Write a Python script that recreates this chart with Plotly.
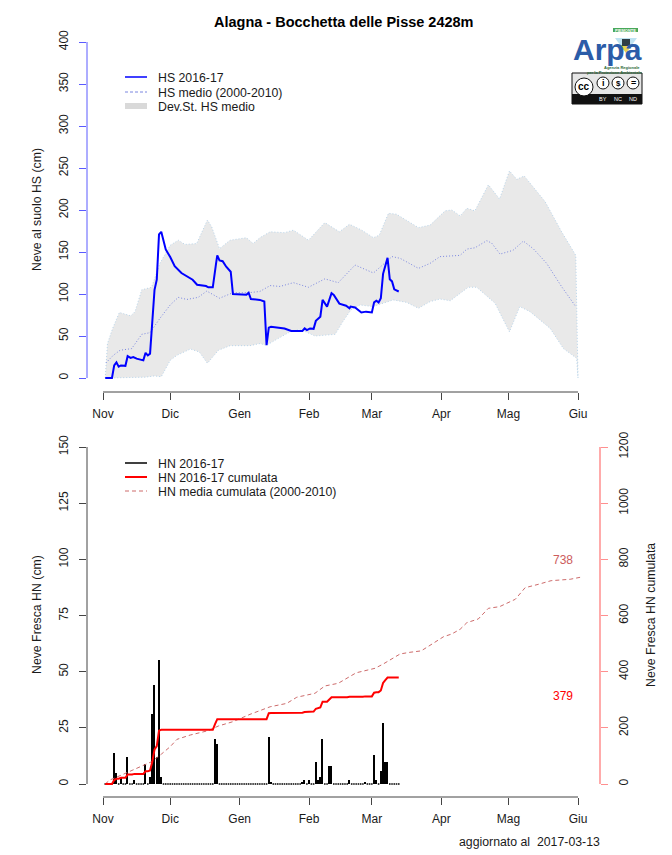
import plotly.graph_objects as go

# ---------- data ----------
months = ["Nov", "Dic", "Gen", "Feb", "Mar", "Apr", "Mag", "Giu"]
month_days = [0, 30, 61, 92, 120, 151, 181, 212]

hs_days = [1,4,5,6,7,8,10,11,12.3,13.5,15,18,19,20,21,22,23,24,25,26,27,28,30,32,35,38,40,42,46,47,49,50.5,51,52,53.4,55,57,58,64,65,66,70,72,73,74,75,81,84,89,90,91,92.4,94,95,97,98,100,102,103,105.5,108.5,110,110.5,112.5,115.3,117.4,120,121,122,123,124,125,126,127,128,129,130,132]
hs_vals = [0,0,15,18.6,13.5,15,14.5,26,24,25,23,21,30,27,29,65,105,117,171,174,162,153,144,133,125,120,117,111,109.5,108,108,137,146,140,139,132.5,126.5,100,99,101.5,94,93,91,39,60,61,59,56,56,59,57,59,58.5,68,73,93,85,101,99,88.5,86,83,85,84,78,79,78,90,92,90,95,124,134.5,143,117.5,115,105.5,103]

mean_days = [1.3,4.6,7.6,12.8,17.3,21,25.4,30,33.6,37.4,42.5,46.3,52,58,65,70,74.6,79,85,91.7,99,105,112.5,120.7,129,132.6,140.8,146,150.4,159.4,162.4,166,171.3,173.5,177.2,183,187.6,192,198,204.7,211]
mean_vals = [18,27,33,35,52,54,71,87,96,93.5,96,103.5,95,101.5,101.5,103,110,109,113.5,108,118,113.5,134.5,125,144.5,142.5,130.5,136.5,144.5,146,153.5,155,163.5,160.5,147.5,152,163,154,136.5,108.7,85]

upper_days = [1,2,4.3,7.3,12.4,14.3,17.3,21.7,25.4,30,33.6,36.6,41.8,46.6,48.5,52,56.7,64,67,70,74.6,81,85,91.7,99,105.5,110,115.5,120.7,123.3,127.4,131,140.8,146,152.7,155.7,159.4,162.4,166,172,177,181.4,184.7,188,197.3,204.7,211,212]
upper_vals = [0,41,59,78,74,79,105,108,136.5,158,164,159,160,188,180,154,164,167,160,167,174,173,176,164,185,174,183,176,167,170,196,195,179,182,199,200,193,202,199,230,213,246.5,236.5,240.5,210,174,146,0]

lower_days = [1,19,23,26,30,33,39,43,46.6,49,51.5,56.7,65.6,70,73,77.5,83.5,88,94.6,103.6,107,110.6,114.7,120.5,129.5,135.6,140.8,146,150.4,155,158.6,163,166.8,175,178,181.4,186,190.6,199.6,205.5,211.4,212]
lower_vals = [0,1,2.5,1.5,21,27,34.5,31,17.5,25,33,38.5,38.5,41,39,46,55,58,50,52,67,81,87,85,93,90,83,91,94,92,99,108,108,89,73,55,85,79,59,35,23.5,0]

hn_days = [5,6,8,11,14,19,21,22,23,24,25,26,50,51,74,75,89,90,92,95,96,97,98,101,102,110,117,121,122,124,125,126,127]
hn_vals = [14,5,3,12,2,9,3,31,44,12,55,3,20,18,21,1,1,2,2,10,2,3,20,8,8,2,1,13,2,6,27,10,10]
hn_zero_days = [1,2,3,4,7,9,10,12,13,15,16,17,18,20,27,28,29,30,31,32,33,34,35,36,37,38,39,40,41,42,43,44,45,46,47,48,49,52,53,54,55,56,57,58,59,60,61,62,63,64,65,66,67,68,69,70,71,72,73,76,77,78,79,80,81,82,83,84,85,86,87,88,91,93,94,99,100,103,104,105,106,107,108,109,111,112,113,114,115,116,118,119,120,123,128,129,130,131,132]
hn_zero_vals = [0] * len(hn_zero_days)

cum_days = [1,4,5,6,7,8,10,11,13,14,18,19,20,21,22,23,24,25,26,49,50,51,73,74,75,88,89,90,91,92,94,95,96,97,98,100,101,102,109,110,116,117,120,121,122,123,124,125,126,127,132]
cum_vals = [0,0,14,19,19,22,22,34,34,36,36,45,45,48,79,123,135,190,193,193,213,231,231,252,253,253,254,256,256,258,258,268,270,273,293,293,301,309,309,311,311,312,312,325,327,327,333,360,370,379,379]

cmean_days = [1,3,9,15,21.6,26,30,33,39,47,51.5,58,65.6,74.6,82,86.5,94.6,99,105,113,121.4,125,132.6,137,142,145,152,155.6,159.4,162.4,167.5,172,177,184,188.4,194.3,200,208.5,213.6]
cmean_vals = [0,14,34.5,56,79,106,133,159,174.5,190,206.5,222,248,275,287,309,323,349,358.6,396,412,427,463,469,474,489,524.5,534,551,574.5,587.6,625.6,631.5,657.7,699,711,724,729,737]

legend_top = ["HS 2016-17", "HS medio (2000-2010)", "Dev.St. HS medio"]
legend_bottom = ["HN 2016-17", "HN 2016-17 cumulata", "HN media cumulata (2000-2010)"]

# ---------- layout geometry (pixels) ----------
W, H = 672, 855
def fx(p): return p / W
def fy(p): return 1 - p / H

X_L, X_R = 87, 600
PX_DAY = (578 - 103) / 212
x_range = [(X_L - 103) / PX_DAY, (X_R - 103) / PX_DAY]

T_TOP, T_BOT, T_ZERO, T_SCALE = 35, 392, 378, 336 / 400
B_TOP, B_BOT, B_ZERO = 440, 797, 784
B_SCALE, R_SCALE = 337 / 150, 337 / 1200

FONT = "Liberation Sans"
TXT = "#1a1a1a"
AXC = "#444444"
BLUEAX = "#5a5aff"
PINK = "#ff8f8f"
BAND_EDGE = "#b8d4ea"

BLUE, MEANBLUE, BANDLEG = "#0000ff", "#7a86e0", "#d9d9d9"
RED, CMEAN = "#ff0000", "#cd6b6b"
BANDFILL = "#e9e9e9"

fig = go.Figure()

# top panel
fig.add_trace(go.Scatter(x=lower_days, y=lower_vals, mode="lines", showlegend=False,
                         line=dict(color=BAND_EDGE, width=1, dash="1px,2px"), hoverinfo="skip"))
fig.add_trace(go.Scatter(x=upper_days, y=upper_vals, mode="lines", showlegend=False, fill="tonexty",
                         fillcolor=BANDFILL, line=dict(color=BAND_EDGE, width=1, dash="1px,2px"), hoverinfo="skip",
                         name=legend_top[2]))
fig.add_trace(go.Scatter(x=mean_days, y=mean_vals, mode="lines", name=legend_top[1], showlegend=False,
                         line=dict(color=MEANBLUE, width=1, dash="1px,2px")))
fig.add_trace(go.Scatter(x=hs_days, y=hs_vals, mode="lines", name=legend_top[0], showlegend=False,
                         line=dict(color=BLUE, width=2)))

# bottom panel
fig.add_trace(go.Bar(x=hn_days, y=hn_vals, xaxis="x2", yaxis="y2", width=0.62, showlegend=False, name=legend_bottom[0],
                     marker=dict(color="#000000", line=dict(width=0))))
fig.add_trace(go.Scatter(x=hn_zero_days, y=hn_zero_vals, xaxis="x2", yaxis="y2", mode="markers", showlegend=False,
                         marker=dict(color="#111111", size=1.6, symbol="square", line=dict(width=0))))
fig.add_trace(go.Scatter(x=cmean_days, y=cmean_vals, xaxis="x2", yaxis="y3", mode="lines", showlegend=False,
                         name=legend_bottom[2], line=dict(color=CMEAN, width=1, dash="4px,3px")))
fig.add_trace(go.Scatter(x=cum_days, y=cum_vals, xaxis="x2", yaxis="y3", mode="lines", showlegend=False,
                         name=legend_bottom[1], line=dict(color=RED, width=2)))

tick_font = dict(family=FONT, size=12, color=TXT)
common_x = dict(range=x_range, domain=[fx(X_L), fx(X_R)], tickmode="array", tickvals=month_days, ticktext=months,
                ticks="outside", ticklen=7, tickcolor=AXC, tickwidth=1, showgrid=False, zeroline=False, automargin=False,
                showline=False, tickfont=tick_font, ticklabelstandoff=4)
common_y = dict(ticks="outside", ticklen=7, tickwidth=1, showgrid=False, zeroline=False, showline=False, automargin=False,
                tickangle=-90, tickfont=tick_font, tickmode="array", ticklabelstandoff=6)

shapes = [
    dict(type="line", xref="x", yref="y domain", x0=0, x1=212, y0=0, y1=0, line=dict(color=AXC, width=1)),
    dict(type="line", xref="x2", yref="y2 domain", x0=0, x1=212, y0=0, y1=0, line=dict(color=AXC, width=1)),
    dict(type="line", xref="x domain", yref="y", x0=0, x1=0, y0=0, y1=400, line=dict(color=BLUEAX, width=1)),
    dict(type="line", xref="x2 domain", yref="y2", x0=0, x1=0, y0=0, y1=150, line=dict(color=AXC, width=1)),
    dict(type="line", xref="x2 domain", yref="y3", x0=1, x1=1, y0=0, y1=1200, line=dict(color=PINK, width=1.5)),
]

def ptext(x, y, text, size=12.3, color=TXT, angle=0, bold=False, anchor="center"):
    return dict(x=fx(x), y=fy(y), xref="paper", yref="paper", text=f"<b>{text}</b>" if bold else text, showarrow=False,
                xanchor=anchor, yanchor="middle", textangle=angle, font=dict(family=FONT, size=size, color=color))

def box(x0, y0, x1, y1, fill, line=None, kind="rect"):
    return dict(type=kind, xref="paper", yref="paper", x0=fx(x0), x1=fx(x1), y0=fy(y0), y1=fy(y1),
                fillcolor=fill, line=dict(color=line or fill, width=1 if line else 0), layer="above")

def key(y, color, width, dash="solid"):
    return dict(type="line", xref="paper", yref="paper", x0=fx(125), x1=fx(147), y0=fy(y), y1=fy(y),
                line=dict(color=color, width=width, dash=dash))

def tri(pts, fill):
    path = "M " + " L ".join(f"{fx(a):.5f},{fy(b):.5f}" for a, b in pts) + " Z"
    return dict(type="path", xref="paper", yref="paper", path=path, fillcolor=fill, line=dict(width=0), layer="above")

annotations = [
    ptext(344, 22, "Alagna - Bocchetta delle Pisse 2428m", size=14.5, color="#000000", bold=True),
    ptext(37, 210, "Neve al suolo HS (cm)", angle=-90),
    ptext(37, 615, "Neve Fresca HN (cm)", angle=-90),
    ptext(651, 615, "Neve Fresca HN cumulata", angle=-90),
    ptext(529, 842, "aggiornato al  2017-03-13"),
    dict(x=205.4, y=798, xref="x2", yref="y3", text="738", showarrow=False, font=dict(family=FONT, size=12, color="#cd5c5c")),
    dict(x=205.4, y=313, xref="x2", yref="y3", text="379", showarrow=False, font=dict(family=FONT, size=12, color="#ff0000")),
    # logo
    ptext(607, 49.5, "Arpa", size=30, color="#2b5ca8", bold=True),
    ptext(625.5, 30, "PIEMONTE", size=4, color="#ffffff", bold=True),
    ptext(622, 68, "Agenzia Regionale", size=4, color="#2e6b3a", bold=True),
    ptext(615, 72.6, "per la Protezione Ambientale", size=4, color="#2e6b3a", bold=True),
    ptext(584, 87, "cc", size=10, color="#000000", bold=True),
    ptext(603, 83, "i", size=9, color="#000000", bold=True),
    ptext(618, 83, "$", size=8, color="#000000", bold=True),
    ptext(633, 83, "=", size=9, color="#000000", bold=True),
    ptext(603, 99, "BY", size=5.5, color="#ffffff"),
    ptext(618, 99, "NC", size=5.5, color="#ffffff"),
    ptext(633, 99, "ND", size=5.5, color="#ffffff"),
]
for label, y in zip(legend_top, [78, 93, 107]):
    annotations.append(ptext(156, y, label, anchor="left"))
for label, y in zip(legend_bottom, [464, 478, 492]):
    annotations.append(ptext(156, y, label, anchor="left"))

shapes += [
    key(77, BLUE, 1.5), key(92, MEANBLUE, 1, "3px,2px"), key(106, BANDLEG, 6),
    key(463, "#000000", 1.5), key(477, RED, 2), key(491, CMEAN, 1, "4px,3px"),
    box(613, 28, 638, 32, "#49a85a"),
    tri([(615, 38), (637, 38), (626, 53)], "#bfe3f2"),
    tri([(620, 45), (632, 45), (626, 53)], "#e8d44d"),
    box(622, 39, 630, 46, "#2f3f46"),
    box(572, 73, 642, 104, "#e6e6e6", line="#111111"),
    box(572, 94, 642, 104, "#111111"),
    box(575, 78, 593, 96, "#ffffff", line="#111111", kind="circle"),
    box(597, 77, 609, 89, "#ffffff", line="#111111", kind="circle"),
    box(612, 77, 624, 89, "#ffffff", line="#111111", kind="circle"),
    box(627, 77, 639, 89, "#ffffff", line="#111111", kind="circle"),
]

fig.update_layout(
    width=W, height=H, margin=dict(l=0, r=0, t=0, b=0), paper_bgcolor="#ffffff", plot_bgcolor="#ffffff",
    bargap=0, barmode="overlay", showlegend=False, hovermode=False,
    xaxis=dict(common_x, anchor="y"),
    xaxis2=dict(common_x, anchor="y2"),
    yaxis=dict(common_y, domain=[fy(T_BOT), fy(T_TOP)], anchor="x",
               range=[(T_ZERO - T_BOT) / T_SCALE, (T_ZERO - T_TOP) / T_SCALE],
               tickvals=[0, 50, 100, 150, 200, 250, 300, 350, 400], tickcolor=BLUEAX),
    yaxis2=dict(common_y, domain=[fy(B_BOT), fy(B_TOP)], anchor="x2",
                range=[(B_ZERO - B_BOT) / B_SCALE, (B_ZERO - B_TOP) / B_SCALE],
                tickvals=[0, 25, 50, 75, 100, 125, 150], tickcolor=AXC),
    yaxis3=dict(common_y, domain=[fy(B_BOT), fy(B_TOP)], anchor="x2", overlaying="y2", side="right",
                range=[(B_ZERO - B_BOT) / R_SCALE, (B_ZERO - B_TOP) / R_SCALE],
                tickvals=[0, 200, 400, 600, 800, 1000, 1200], tickcolor=PINK),
    shapes=shapes, annotations=annotations,
)

fig.write_html("out.html", config=dict(displayModeBar=False),
               post_script="document.body.style.margin='0';document.documentElement.style.overflow='hidden';")
